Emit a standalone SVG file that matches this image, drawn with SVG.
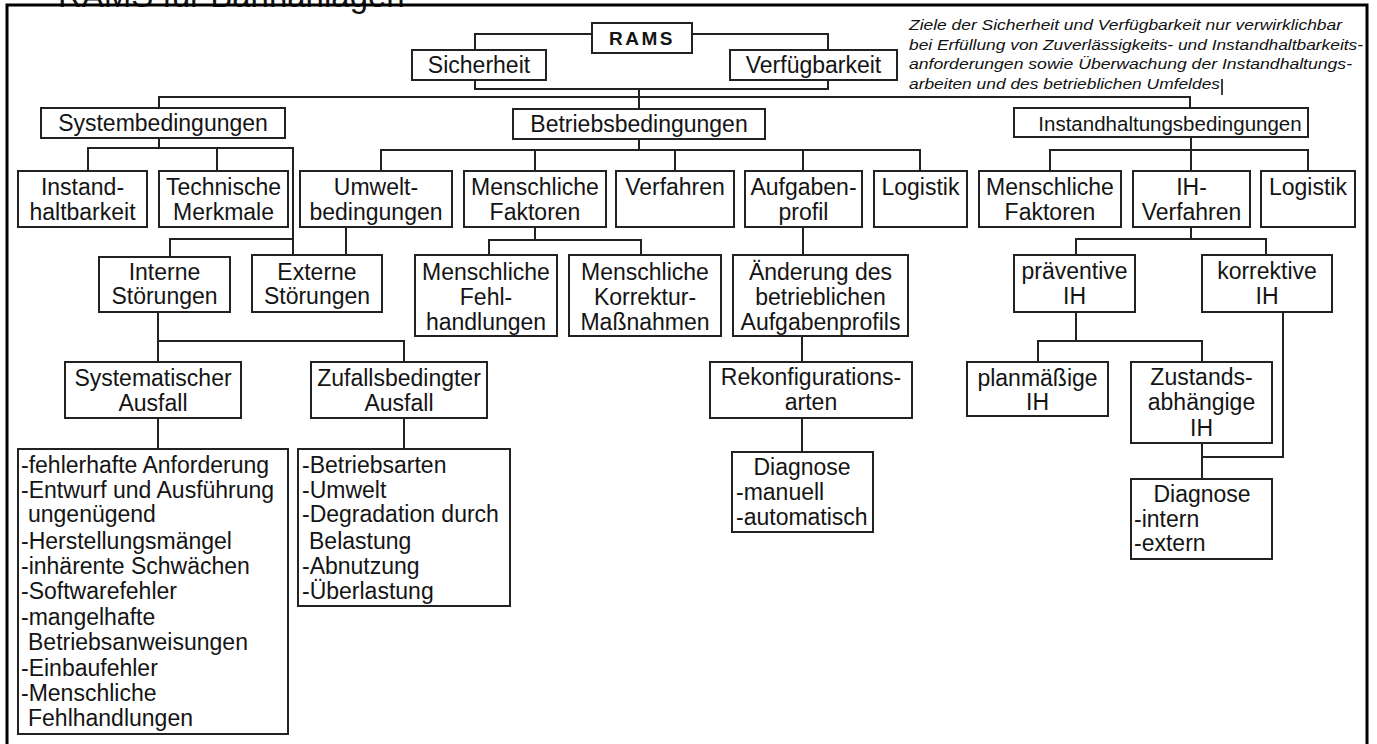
<svg xmlns="http://www.w3.org/2000/svg" width="1377" height="744" viewBox="0 0 1377 744">
<style>
.bx{fill:#fff;stroke:#222;stroke-width:2}
.t{font-family:"Liberation Sans",Arial,sans-serif;font-size:23px;fill:#141414;text-anchor:middle}
.l{font-family:"Liberation Sans",Arial,sans-serif;font-size:23px;fill:#141414}
.n{font-family:"Liberation Sans",Arial,sans-serif;font-size:15.5px;font-style:italic;fill:#111}
.c{fill:none;stroke:#222;stroke-width:2}
</style>
<rect width="1377" height="744" fill="#fff"/>
<text x="58" y="7" style="font-family:'Liberation Sans',Arial,sans-serif;font-size:33px;fill:#141414">RAMS für Bahnanlagen</text>
<path d="M7,744 V5 H1367 V744" fill="none" stroke="#000" stroke-width="3"/>

<g id="connectors" class="c">
<path d="M592,34 H475 V50"/>
<path d="M692,34 H828 V50"/>
<path d="M475,80 V89 H828 V80"/>
<path d="M639,89 V109"/>
<path d="M159,108 V97 H1190 V108"/>
<path d="M159,138 V148"/>
<path d="M88,171 V148 H293 V255"/>
<path d="M217,148 V171"/>
<path d="M293,239 H170 V257"/>
<path d="M346,227 V255"/>
<path d="M639,139 V150"/>
<path d="M381,171 V150 H920 V171"/>
<path d="M535,150 V171"/>
<path d="M675,150 V171"/>
<path d="M803,150 V171"/>
<path d="M535,227 V240"/>
<path d="M489,255 V240 H641 V255"/>
<path d="M803,227 V255"/>
<path d="M802,336 V362"/>
<path d="M802,418 V452"/>
<path d="M1191,137 V150"/>
<path d="M1050,172 V150 H1308 V172"/>
<path d="M1191,150 V172"/>
<path d="M1191,227 V239"/>
<path d="M1076,255 V239 H1266 V255"/>
<path d="M1076,312 V341"/>
<path d="M1038,362 V341 H1202 V362"/>
<path d="M1283,312 V457 H1202"/>
<path d="M1202,443 V479"/>
<path d="M158,312 V341 H404 V362"/>
<path d="M158,341 V362"/>
<path d="M158,418 V449"/>
<path d="M404,418 V449"/>
</g>

<g id="rams"><rect class="bx" x="592" y="23" width="100" height="30"/><text class="t" x="642" y="45" style="font-weight:bold;font-size:19px;letter-spacing:2.5px">RAMS</text></g>
<g id="sicherheit"><rect class="bx" x="412" y="50" width="134" height="30"/><text class="t" x="479" y="73">Sicherheit</text></g>
<g id="verfuegbarkeit"><rect class="bx" x="730" y="50" width="167" height="30"/><text class="t" x="813.5" y="73">Verfügbarkeit</text></g>

<g id="note">
<text class="n" x="909" y="30" textLength="433" lengthAdjust="spacingAndGlyphs">Ziele der Sicherheit und Verfügbarkeit nur verwirklichbar</text>
<text class="n" x="909" y="50" textLength="454" lengthAdjust="spacingAndGlyphs">bei Erfüllung von Zuverlässigkeits- und Instandhaltbarkeits-</text>
<text class="n" x="909" y="69" textLength="443" lengthAdjust="spacingAndGlyphs">anforderungen sowie Überwachung der Instandhaltungs-</text>
<text class="n" x="909" y="89" textLength="311" lengthAdjust="spacingAndGlyphs">arbeiten und des betrieblichen Umfeldes</text>
<line x1="1222" y1="79" x2="1222" y2="95" stroke="#000" stroke-width="1.5"/>
</g>

<g id="systembedingungen"><rect class="bx" x="41" y="108" width="244" height="30"/><text class="t" x="163" y="131">Systembedingungen</text></g>
<g id="betriebsbedingungen"><rect class="bx" x="513" y="109" width="252" height="30"/><text class="t" x="639" y="132">Betriebsbedingungen</text></g>
<g id="instandhaltungsbedingungen"><rect class="bx" x="1014" y="108" width="294" height="29"/><text class="t" x="1170" y="131" style="font-size:20.5px">Instandhaltungsbedingungen</text></g>

<g id="instandhaltbarkeit"><rect class="bx" x="18" y="171" width="129" height="56"/><text class="t" x="82.5" y="195">Instand-</text><text class="t" x="82.5" y="220">haltbarkeit</text></g>
<g id="technische-merkmale"><rect class="bx" x="159" y="171" width="129" height="56"/><text class="t" x="223.5" y="195">Technische</text><text class="t" x="223.5" y="220">Merkmale</text></g>
<g id="umweltbedingungen"><rect class="bx" x="300" y="171" width="152" height="56"/><text class="t" x="376" y="195">Umwelt-</text><text class="t" x="376" y="220">bedingungen</text></g>
<g id="menschliche-faktoren"><rect class="bx" x="464" y="171" width="142" height="56"/><text class="t" x="535" y="195">Menschliche</text><text class="t" x="535" y="220">Faktoren</text></g>
<g id="verfahren"><rect class="bx" x="616" y="171" width="118" height="56"/><text class="t" x="675" y="195">Verfahren</text></g>
<g id="aufgabenprofil"><rect class="bx" x="745" y="171" width="117" height="56"/><text class="t" x="803.5" y="195">Aufgaben-</text><text class="t" x="803.5" y="220">profil</text></g>
<g id="logistik"><rect class="bx" x="874" y="171" width="93" height="56"/><text class="t" x="920.5" y="195">Logistik</text></g>
<g id="ih-menschliche-faktoren"><rect class="bx" x="979" y="171" width="142" height="56"/><text class="t" x="1050" y="195">Menschliche</text><text class="t" x="1050" y="220">Faktoren</text></g>
<g id="ih-verfahren"><rect class="bx" x="1133" y="171" width="117" height="56"/><text class="t" x="1191.5" y="195">IH-</text><text class="t" x="1191.5" y="220">Verfahren</text></g>
<g id="ih-logistik"><rect class="bx" x="1261" y="171" width="94" height="56"/><text class="t" x="1308" y="195">Logistik</text></g>

<g id="interne-stoerungen"><rect class="bx" x="99" y="257" width="131" height="55"/><text class="t" x="164.5" y="280">Interne</text><text class="t" x="164.5" y="304">Störungen</text></g>
<g id="externe-stoerungen"><rect class="bx" x="252" y="255" width="130" height="57"/><text class="t" x="317" y="280">Externe</text><text class="t" x="317" y="304">Störungen</text></g>
<g id="fehlhandlungen"><rect class="bx" x="415" y="255" width="142" height="81"/><text class="t" x="486" y="280">Menschliche</text><text class="t" x="486" y="305">Fehl-</text><text class="t" x="486" y="330">handlungen</text></g>
<g id="korrekturmassnahmen"><rect class="bx" x="569" y="255" width="152" height="81"/><text class="t" x="645" y="280">Menschliche</text><text class="t" x="645" y="305">Korrektur-</text><text class="t" x="645" y="330">Maßnahmen</text></g>
<g id="aenderung"><rect class="bx" x="733" y="255" width="175" height="81"/><text class="t" x="820.5" y="280">Änderung des</text><text class="t" x="820.5" y="305">betrieblichen</text><text class="t" x="820.5" y="330">Aufgabenprofils</text></g>
<g id="praeventive-ih"><rect class="bx" x="1014" y="255" width="121" height="57"/><text class="t" x="1074.5" y="279">präventive</text><text class="t" x="1074.5" y="304">IH</text></g>
<g id="korrektive-ih"><rect class="bx" x="1202" y="255" width="130" height="57"/><text class="t" x="1267" y="279">korrektive</text><text class="t" x="1267" y="304">IH</text></g>

<g id="systematischer-ausfall"><rect class="bx" x="65" y="362" width="176" height="56"/><text class="t" x="153" y="386">Systematischer</text><text class="t" x="153" y="411">Ausfall</text></g>
<g id="zufallsbedingter-ausfall"><rect class="bx" x="311" y="362" width="176" height="56"/><text class="t" x="399" y="386">Zufallsbedingter</text><text class="t" x="399" y="411">Ausfall</text></g>
<g id="rekonfigurationsarten"><rect class="bx" x="710" y="362" width="202" height="56"/><text class="t" x="811" y="385">Rekonfigurations-</text><text class="t" x="811" y="410">arten</text></g>
<g id="planmaessige-ih"><rect class="bx" x="967" y="362" width="141" height="54"/><text class="t" x="1037.5" y="386">planmäßige</text><text class="t" x="1037.5" y="410">IH</text></g>
<g id="zustandsabhaengige-ih"><rect class="bx" x="1131" y="362" width="141" height="81"/><text class="t" x="1201.5" y="385">Zustands-</text><text class="t" x="1201.5" y="410">abhängige</text><text class="t" x="1201.5" y="436">IH</text></g>

<g id="systematisch-liste"><rect class="bx" x="18" y="449" width="270" height="285"/>
<text class="l" x="21" y="473">-fehlerhafte Anforderung</text>
<text class="l" x="21" y="498">-Entwurf und Ausführung</text>
<text class="l" x="28" y="522">ungenügend</text>
<text class="l" x="21" y="549">-Herstellungsmängel</text>
<text class="l" x="21" y="574">-inhärente Schwächen</text>
<text class="l" x="21" y="599">-Softwarefehler</text>
<text class="l" x="21" y="625">-mangelhafte</text>
<text class="l" x="28" y="650">Betriebsanweisungen</text>
<text class="l" x="21" y="676">-Einbaufehler</text>
<text class="l" x="21" y="701">-Menschliche</text>
<text class="l" x="28" y="726">Fehlhandlungen</text>
</g>
<g id="zufall-liste"><rect class="bx" x="298" y="449" width="212" height="157"/>
<text class="l" x="302" y="473">-Betriebsarten</text>
<text class="l" x="302" y="498">-Umwelt</text>
<text class="l" x="302" y="522">-Degradation durch</text>
<text class="l" x="309" y="549">Belastung</text>
<text class="l" x="302" y="574">-Abnutzung</text>
<text class="l" x="302" y="599">-Überlastung</text>
</g>
<g id="diagnose-rekonf"><rect class="bx" x="732" y="452" width="141" height="80"/>
<text class="t" x="802" y="475">Diagnose</text>
<text class="l" x="736" y="500">-manuell</text>
<text class="l" x="736" y="525">-automatisch</text>
</g>
<g id="diagnose-ih"><rect class="bx" x="1131" y="479" width="141" height="80"/>
<text class="t" x="1202" y="502">Diagnose</text>
<text class="l" x="1134" y="527">-intern</text>
<text class="l" x="1134" y="551">-extern</text>
</g>
</svg>
